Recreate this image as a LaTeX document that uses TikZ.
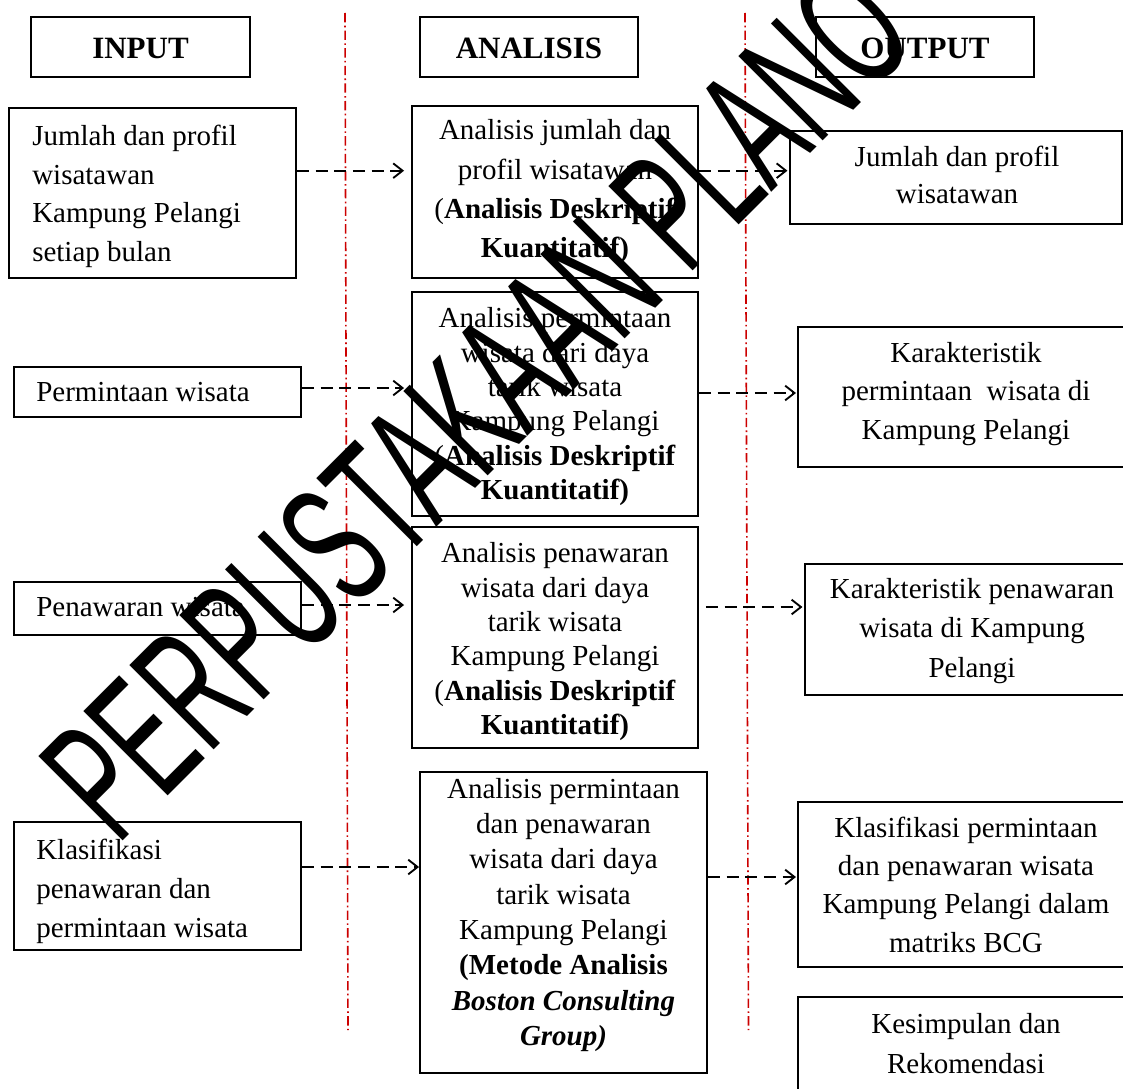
\documentclass[tikz,border=0pt]{standalone}
\usepackage{fontspec}
\usepackage{graphicx}
\setmainfont{Liberation Serif}
\newfontfamily\wmfont{Liberation Sans}
\usetikzlibrary{arrows.meta,fit}
\definecolor{redline}{RGB}{204,0,0}
\newcommand{\bodyfs}[1]{\fontsize{21.75}{#1}\selectfont}
\newcommand{\wmtext}{\scalebox{0.56}[1]{\wmfont\fontsize{130}{134}\selectfont PERPUSTAKAAN PLANO}}
\begin{document}
\begin{tikzpicture}[x=0.75pt,y=-0.75pt,
  box/.style={draw, line width=1.4pt, inner sep=0pt, rectangle},
  hdr/.style={inner sep=0pt, font=\bfseries\fontsize{23.25}{28}\selectfont},
  txtL/.style={inner sep=0pt, align=left, anchor=west},
  txtC/.style={inner sep=0pt, align=center},
  arr/.style={line width=1.4pt, dash pattern=on 9pt off 5pt, -{Straight Barb[length=7pt,width=11pt]}},
  sepline/.style={redline, line width=1.2pt, dash pattern=on 7pt off 2.5pt on 1.2pt off 2.5pt}
]
\path[use as bounding box] (0,0) rectangle (1123,1088);
\fill[white] (0,0) rectangle (1123,1088);
\clip (0,0) rectangle (1123,1088);

% separators
\coordinate (s1t) at (345,13);
\coordinate (s1b) at (348,1030);
\coordinate (s2t) at (745,13);
\coordinate (s2b) at (748.5,1030);
\draw[sepline] (s1t) -- (s1b);
\draw[sepline] (s2t) -- (s2b);

% headers
\node[box, fit={(31,17) (250,77)}] (hin) {};
\node[hdr] (hint) at (140.5,48) {INPUT};
\node[box, fit={(420,17) (638,77)}] (han) {};
\node[hdr] (hant) at (529,48) {ANALISIS};
\node[box, fit={(816,17) (1034,77)}] (hout) {};
\node[hdr] (houtt) at (925,48) {OUTPUT};

% input boxes
\node[box, fit={(9,108) (296,278)}] (i1) {};
\node[txtL, font=\bodyfs{29.0}] (i1t) at (32,196.25) {Jumlah dan profil\\wisatawan\\Kampung Pelangi\\setiap bulan};
\node[box, fit={(14,367) (301,417)}] (i2) {};
\node[txtL, font=\bodyfs{29.0}] (i2t) at (36,392.1) {Permintaan wisata};
\node[box, fit={(14,582) (301,635)}] (i3) {};
\node[txtL, font=\bodyfs{29.0}] (i3t) at (36,607.1) {Penawaran wisata};
\node[box, fit={(14,822) (301,950)}] (i4) {};
\node[txtL, font=\bodyfs{29.25}] (i4t) at (36,891.25) {Klasifikasi\\penawaran dan\\permintaan wisata};

% analysis boxes
\node[box, fit={(412,106) (698,278)}] (a1) {};
\node[txtC, font=\bodyfs{29.5}] (a1t) at (555,191.7) {Analisis jumlah dan\\profil wisatawan\\(\textbf{Analisis Deskriptif}\\\textbf{Kuantitatif)}};
\node[box, fit={(412,292) (698,516)}] (a2) {};
\node[txtC, font=\bodyfs{25.8}] (a2t) at (555,406.7) {Analisis permintaan\\wisata dari daya\\tarik wisata\\Kampung Pelangi\\(\textbf{Analisis Deskriptif}\\\textbf{Kuantitatif)}};
\node[box, fit={(412,527) (698,748)}] (a3) {};
\node[txtC, font=\bodyfs{25.8}] (a3t) at (555,641.7) {Analisis penawaran\\wisata dari daya\\tarik wisata\\Kampung Pelangi\\(\textbf{Analisis Deskriptif}\\\textbf{Kuantitatif)}};
\node[box, fit={(420,772) (707,1073)}] (a4) {};
\node[txtC, font=\bodyfs{26.5}] (a4t) at (563.5,914.75) {Analisis permintaan\\dan penawaran\\wisata dari daya\\tarik wisata\\Kampung Pelangi\\\textbf{(Metode Analisis}\\\textbf{\textit{Boston Consulting}}\\\textbf{\textit{Group)}}};

% output boxes
\node[box, fit={(790,131) (1122,224)}] (o1) {};
\node[txtC, font=\bodyfs{27.75}] (o1t) at (957,174.6) {Jumlah dan profil\\wisatawan};
\node[box, fit={(798,327) (1135,467)}] (o2) {};
\node[txtC, font=\bodyfs{28.9}] (o2t) at (966,393.75) {Karakteristik\\permintaan\ \ wisata di\\Kampung Pelangi};
\node[box, fit={(805,564) (1140,695)}] (o3) {};
\node[txtC, font=\bodyfs{29.6}] (o3t) at (972,630.75) {Karakteristik penawaran\\wisata di Kampung\\Pelangi};
\node[box, fit={(798,802) (1135,967)}] (o4) {};
\node[txtC, font=\bodyfs{28.7}] (o4t) at (966,884.6) {Klasifikasi permintaan\\dan penawaran wisata\\Kampung Pelangi dalam\\matriks BCG};
\node[box, fit={(798,997) (1135,1130)}] (o5) {};
\node[txtC, font=\bodyfs{30}] (o5t) at (966,1043.1) {Kesimpulan dan\\Rekomendasi};

% connectors
\coordinate (r1) at (0,170.7);
\coordinate (r2a) at (0,388);
\coordinate (r2b) at (0,393);
\coordinate (r3a) at (0,605);
\coordinate (r3b) at (0,607);
\coordinate (r4a) at (0,867);
\coordinate (r4b) at (0,877);
\draw[arr, shorten >=5.25pt] (i1.east |- r1) -- (a1.west |- r1);
\draw[arr, shorten >=1.2pt] (a1.east |- r1) -- (o1.west |- r1);
\draw[arr, shorten >=5.25pt] (i2.east |- r2a) -- (a2.west |- r2a);
\draw[arr, shorten >=0.8pt] (a2.east |- r2b) -- (o2.west |- r2b);
\draw[arr, shorten >=5.25pt] (i3.east |- r3a) -- (a3.west |- r3a);
\draw[arr, shorten <=5.25pt, shorten >=1.2pt] (a3.east |- r3b) -- (o3.west |- r3b);
\draw[arr] (i4.east |- r4a) -- (a4.west |- r4a);
\draw[arr, shorten >=0.8pt] (a4.east |- r4b) -- (o4.west |- r4b);

% watermark
\node[rotate=45, anchor=base west, inner sep=0pt, text=black] (wm) at (117,847) {\wmtext};
\end{tikzpicture}
\end{document}
